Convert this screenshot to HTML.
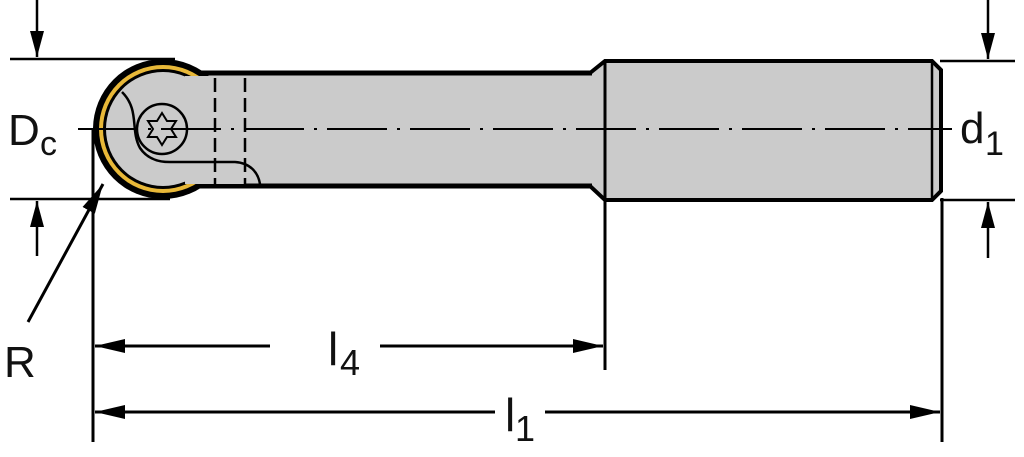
<!DOCTYPE html>
<html><head><meta charset="utf-8"><style>
html,body{margin:0;padding:0;background:#fff;width:1024px;height:457px;overflow:hidden}
text{font-family:"Liberation Sans","DejaVu Sans",sans-serif;fill:#111}
</style></head><body>
<svg width="1024" height="457" viewBox="0 0 1024 457" xmlns="http://www.w3.org/2000/svg">
<defs>
<marker id="a" markerWidth="14" markerHeight="26" refX="7" refY="26" orient="0" markerUnits="userSpaceOnUse"><path d="M0,0 L14,0 L7,26 z" fill="#000"/></marker>
<marker id="u" markerWidth="14" markerHeight="26" refX="7" refY="0" orient="0" markerUnits="userSpaceOnUse"><path d="M0,26 L14,26 L7,0 z" fill="#000"/></marker>
<marker id="b" markerWidth="30" markerHeight="14" refX="30" refY="7" orient="auto" markerUnits="userSpaceOnUse"><path d="M0,0 L30,7 L0,14 z" fill="#000"/></marker>
</defs>
<!-- shank -->
<path d="M590,73 L605,61 L932,61 L941,70 L941,191 L932,200 L605,200 L590,186 Z" fill="#cbcbcb" stroke="#000" stroke-width="4"/>
<line x1="605" y1="61" x2="605" y2="370" stroke="#000" stroke-width="3"/>
<line x1="932" y1="63" x2="932" y2="198" stroke="#000" stroke-width="2.5"/>
<!-- neck -->
<rect x="170" y="73" width="422" height="113" fill="#cbcbcb"/>
<line x1="190" y1="73" x2="592" y2="73" stroke="#000" stroke-width="5"/>
<line x1="190" y1="186" x2="592" y2="186" stroke="#000" stroke-width="5"/>
<!-- head -->
<circle cx="163" cy="129" r="70" fill="#000"/>
<circle cx="163" cy="129" r="64" fill="#e8b838"/>
<circle cx="163" cy="129" r="60" fill="#000"/>
<circle cx="163" cy="129" r="57" fill="#cbcbcb"/>
<rect x="185" y="76" width="60" height="108" fill="#cbcbcb"/>
<path d="M122,92 C140,110 130,130 140,148 C148,160 160,162 170,162 L235,162 C250,163 258,172 260,184" fill="none" stroke="#000" stroke-width="2.5"/>
<line x1="215" y1="78" x2="215" y2="184" stroke="#000" stroke-width="2.5" stroke-dasharray="14,6"/>
<line x1="245" y1="78" x2="245" y2="184" stroke="#000" stroke-width="2.5" stroke-dasharray="14,6"/>
<circle cx="162" cy="129" r="25" fill="#cbcbcb" stroke="#000" stroke-width="2.5"/>
<path d="M162,113 L167,121 L176,121 L171,129 L176,137 L167,137 L162,145 L157,137 L148,137 L153,129 L148,121 L157,121 Z" fill="none" stroke="#000" stroke-width="2"/>
<!-- centerline -->
<line x1="78" y1="129" x2="952" y2="129" stroke="#000" stroke-width="2" stroke-dasharray="60,10,3,10"/>
<!-- Dc -->
<line x1="10" y1="59" x2="175" y2="59" stroke="#000" stroke-width="2.5"/>
<line x1="10" y1="199" x2="170" y2="199" stroke="#000" stroke-width="2.5"/>
<line x1="37" y1="0" x2="37" y2="57" stroke="#000" stroke-width="2.5" marker-end="url(#a)"/>
<line x1="37" y1="256" x2="37" y2="201" stroke="#000" stroke-width="2.5" marker-end="url(#u)"/>
<text x="8" y="145" font-size="44">D</text><text x="40" y="155" font-size="34">c</text>
<!-- d1 -->
<line x1="940" y1="61" x2="1015" y2="61" stroke="#000" stroke-width="2.5"/>
<line x1="940" y1="200" x2="1015" y2="200" stroke="#000" stroke-width="2.5"/>
<line x1="988" y1="0" x2="988" y2="59" stroke="#000" stroke-width="2.5" marker-end="url(#a)"/>
<line x1="988" y1="258" x2="988" y2="202" stroke="#000" stroke-width="2.5" marker-end="url(#u)"/>
<text x="960" y="143" font-size="44">d</text><text x="985" y="155" font-size="34">1</text>
<!-- extension -->
<line x1="93" y1="130" x2="93" y2="442" stroke="#000" stroke-width="3"/>
<line x1="942" y1="198" x2="942" y2="442" stroke="#000" stroke-width="3"/>
<!-- R -->
<line x1="28" y1="322" x2="103" y2="184" stroke="#000" stroke-width="3" marker-end="url(#b)"/>
<text x="4" y="377" font-size="44">R</text>
<!-- l4 -->
<line x1="270" y1="346" x2="95" y2="346" stroke="#000" stroke-width="3" marker-end="url(#b)"/>
<line x1="380" y1="346" x2="603" y2="346" stroke="#000" stroke-width="3" marker-end="url(#b)"/>
<text x="328" y="365" font-size="46">l</text><text x="340" y="375" font-size="36">4</text>
<!-- l1 -->
<line x1="495" y1="412" x2="95" y2="412" stroke="#000" stroke-width="3" marker-end="url(#b)"/>
<line x1="545" y1="412" x2="940" y2="412" stroke="#000" stroke-width="3" marker-end="url(#b)"/>
<text x="505" y="431" font-size="46">l</text><text x="515" y="441" font-size="36">1</text>
</svg>
</body></html>
